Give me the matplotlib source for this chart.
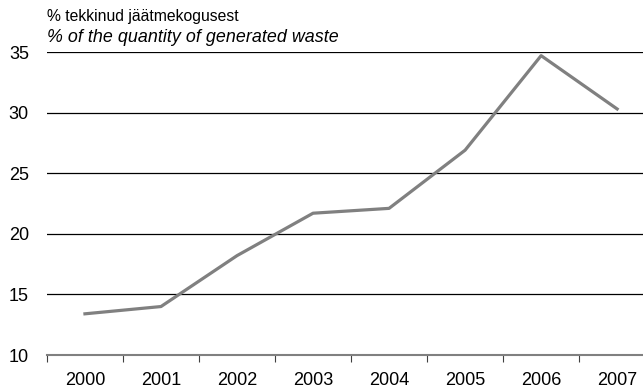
import matplotlib
matplotlib.use('Agg')
import matplotlib.pyplot as plt
import numpy as np

plt.rcParams['font.family'] = ['Liberation Sans', 'DejaVu Sans']

# andmed
years = ['2000', '2001', '2002', '2003', '2004', '2005', '2006', '2007']
share = [13.4, 14.0, 18.2, 21.7, 22.1, 26.9, 34.7, 30.3]
y_ticks = [10, 15, 20, 25, 30, 35]

fig = plt.figure(figsize=(6.43, 3.91), dpi=100)
ax = fig.add_axes((0.073, 0.092, 0.927, 0.775))

x = np.arange(len(years))
for t in y_ticks[1:]:
    ax.axhline(t, color='black', linewidth=0.9, zorder=1)
ax.plot(x, share, color='#808080', linewidth=2.3, zorder=3)

ax.set_ylim(10, 35)
ax.set_xlim(-0.5, 7.34)
ax.set_yticks(y_ticks)
ax.set_xticks(x)
ax.set_xticklabels(years)
ax.set_xticks(np.arange(len(years)) - 0.5, minor=True)

for s in ['top', 'right', 'left']:
    ax.spines[s].set_visible(False)
ax.spines['bottom'].set_color('#808080')
ax.spines['bottom'].set_linewidth(1.5)

ax.tick_params(axis='y', length=0, labelsize=13, pad=13)
ax.tick_params(axis='x', which='major', length=0, labelsize=13, pad=12)
ax.tick_params(axis='x', which='minor', length=5, direction='out', color='#404040', width=0.8)

fig.text(0.073, 0.958, '% tekkinud jäätmekogusest', fontsize=11.3, va='center')
fig.text(0.073, 0.903, '% of the quantity of generated waste', fontsize=12.9,
         style='italic', va='center')

fig.savefig('out.png', dpi=100)
